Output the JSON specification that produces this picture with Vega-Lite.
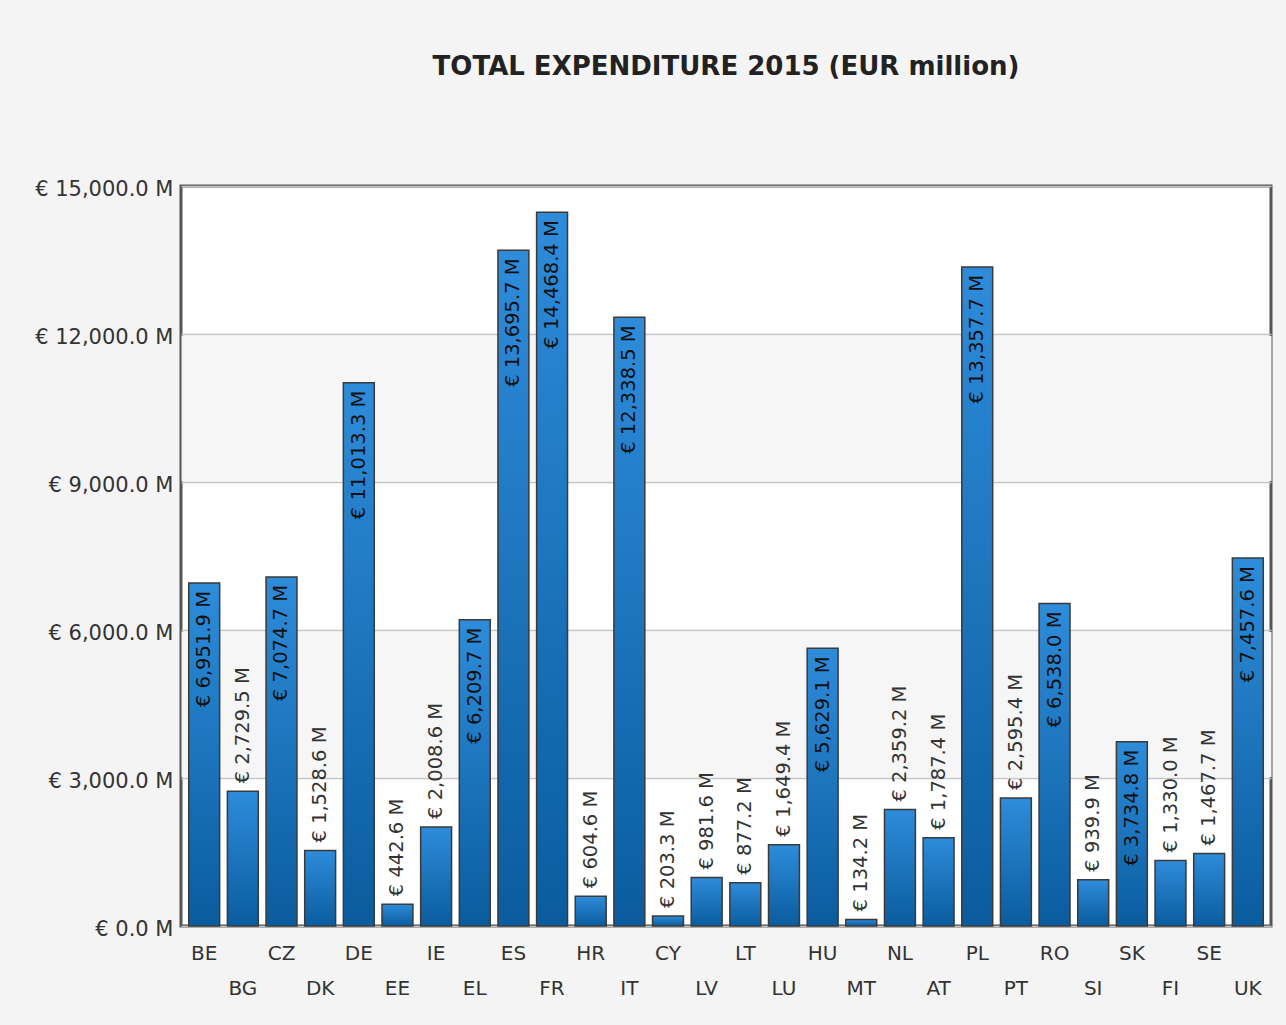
{
  "$schema": "https://vega.github.io/schema/vega-lite/v6.json",
  "width": 1090,
  "height": 740,
  "autosize": {"type": "none"},
  "padding": {"left": 181, "top": 186, "right": 15, "bottom": 99},
  "background": "#f4f4f4",
  "config": {
    "font": "DejaVu Sans",
    "view": {"stroke": "#555555", "strokeWidth": 3, "fill": "#ffffff"}
  },
  "title": {
    "text": "TOTAL EXPENDITURE 2015 (EUR million)",
    "anchor": "middle",
    "font": "DejaVu Sans",
    "fontSize": 26,
    "fontWeight": "bold",
    "color": "#222222",
    "baseline": "alphabetic",
    "offset": 77
  },
  "data": {
    "values": [
      {"country": "BE", "value": 6951.9, "label": "€ 6,951.9 M"},
      {"country": "BG", "value": 2729.5, "label": "€ 2,729.5 M"},
      {"country": "CZ", "value": 7074.7, "label": "€ 7,074.7 M"},
      {"country": "DK", "value": 1528.6, "label": "€ 1,528.6 M"},
      {"country": "DE", "value": 11013.3, "label": "€ 11,013.3 M"},
      {"country": "EE", "value": 442.6, "label": "€ 442.6 M"},
      {"country": "IE", "value": 2008.6, "label": "€ 2,008.6 M"},
      {"country": "EL", "value": 6209.7, "label": "€ 6,209.7 M"},
      {"country": "ES", "value": 13695.7, "label": "€ 13,695.7 M"},
      {"country": "FR", "value": 14468.4, "label": "€ 14,468.4 M"},
      {"country": "HR", "value": 604.6, "label": "€ 604.6 M"},
      {"country": "IT", "value": 12338.5, "label": "€ 12,338.5 M"},
      {"country": "CY", "value": 203.3, "label": "€ 203.3 M"},
      {"country": "LV", "value": 981.6, "label": "€ 981.6 M"},
      {"country": "LT", "value": 877.2, "label": "€ 877.2 M"},
      {"country": "LU", "value": 1649.4, "label": "€ 1,649.4 M"},
      {"country": "HU", "value": 5629.1, "label": "€ 5,629.1 M"},
      {"country": "MT", "value": 134.2, "label": "€ 134.2 M"},
      {"country": "NL", "value": 2359.2, "label": "€ 2,359.2 M"},
      {"country": "AT", "value": 1787.4, "label": "€ 1,787.4 M"},
      {"country": "PL", "value": 13357.7, "label": "€ 13,357.7 M"},
      {"country": "PT", "value": 2595.4, "label": "€ 2,595.4 M"},
      {"country": "RO", "value": 6538.0, "label": "€ 6,538.0 M"},
      {"country": "SI", "value": 939.9, "label": "€ 939.9 M"},
      {"country": "SK", "value": 3734.8, "label": "€ 3,734.8 M"},
      {"country": "FI", "value": 1330.0, "label": "€ 1,330.0 M"},
      {"country": "SE", "value": 1467.7, "label": "€ 1,467.7 M"},
      {"country": "UK", "value": 7457.6, "label": "€ 7,457.6 M"}
    ]
  },
  "encoding": {
    "x": {
      "field": "country",
      "type": "nominal",
      "sort": null,
      "scale": {"paddingInner": 0.2, "paddingOuter": 0.2},
      "axis": {
        "title": null,
        "labelAngle": 0,
        "labelOverlap": false,
        "labelFont": "DejaVu Sans",
        "labelFontSize": 20,
        "labelColor": "#333333",
        "labelPadding": {
          "condition": {"test": "indexof(['BG','DK','EE','EL','FR','IT','LV','LU','MT','AT','PT','SI','FI','UK'], datum.value) >= 0", "value": 52},
          "value": 17
        },
        "ticks": false,
        "domain": false,
        "grid": false
      }
    },
    "y": {
      "field": "value",
      "type": "quantitative",
      "scale": {"domain": [0, 15000], "nice": false},
      "axis": {
        "title": null,
        "values": [0, 3000, 4500, 6000, 9000, 10500, 12000, 15000],
        "labelExpr": "datum.value % 3000 ? '' : '€ ' + format(datum.value, ',.1f') + ' M'",
        "labelFont": "DejaVu Sans",
        "labelFontSize": 21,
        "labelColor": "#333333",
        "labelPadding": 8,
        "labelOffset": 3,
        "ticks": false,
        "domain": false,
        "grid": true,
        "gridColor": {"condition": {"test": "datum.value % 3000", "value": "#f6f6f6"}, "value": "#c4c4c4"},
        "gridWidth": {"condition": {"test": "datum.value % 3000", "value": 145}, "value": 1.5}
      }
    }
  },
  "layer": [
    {
      "mark": {
        "type": "bar",
        "stroke": "#3a3a3a",
        "strokeWidth": 1.5,
        "color": {
          "gradient": "linear",
          "x1": 0, "y1": 0, "x2": 0, "y2": 1,
          "stops": [
            {"offset": 0, "color": "#2e8cda"},
            {"offset": 1, "color": "#0a5c9e"}
          ]
        }
      }
    },
    {
      "transform": [{"filter": "datum.value >= 3000"}],
      "mark": {
        "type": "text",
        "angle": 270,
        "align": "right",
        "baseline": "middle",
        "dx": -8,
        "font": "DejaVu Sans",
        "fontSize": 19.5,
        "color": "#111111"
      },
      "encoding": {"text": {"field": "label"}}
    },
    {
      "transform": [{"filter": "datum.value < 3000"}],
      "mark": {
        "type": "text",
        "angle": 270,
        "align": "left",
        "baseline": "middle",
        "dx": 8,
        "font": "DejaVu Sans",
        "fontSize": 19.5,
        "color": "#333333"
      },
      "encoding": {"text": {"field": "label"}}
    }
  ]
}
